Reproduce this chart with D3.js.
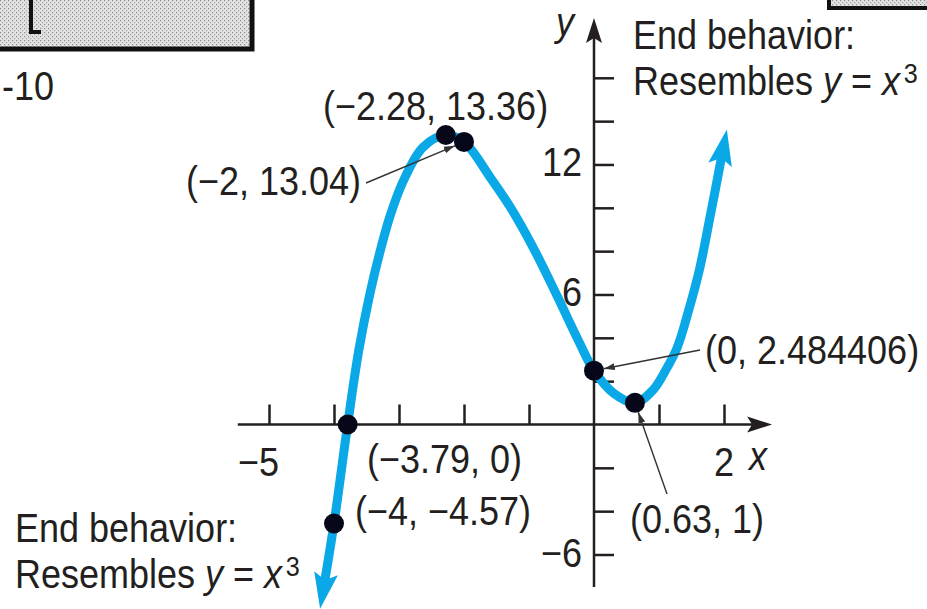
<!DOCTYPE html>
<html>
<head>
<meta charset="utf-8">
<script src="https://cdn.jsdelivr.net/npm/d3@7"></script>
<style>
  html, body { margin: 0; padding: 0; background: #fff; overflow: hidden; }
  svg text { font-family: "Liberation Sans", Arial, Helvetica, sans-serif; fill: #231f20; white-space: pre; }
</style>
</head>
<body>
<svg id="chart" width="927" height="609"></svg>
<script>
// ---- data ---------------------------------------------------------------
// traced points of the cubic, left to right (arrow ends at both extremes)
const curveX = [-4.14, -4, -3.79, -3.62, -3.45, -3.29, -3.14, -2.94, -2.63, -2.28, -2,
                -1.6, -1.29, -0.94, -0.57, -0.22, 0, 0.3, 0.63, 0.91, 1.12, 1.28, 1.45,
                1.63, 1.78, 1.96];
const curveY = [-7.18, -4.57, 0, 3.4, 6.0, 8.0, 9.6, 11.2, 12.8, 13.36, 13.04,
                11.42, 10.04, 8.19, 5.95, 3.75, 2.484406, 1.45, 1, 1.6, 2.6, 3.55, 5.2,
                7.25, 9.5, 12.3];

// marked points and their coordinate labels
const pointX = [-2.28, -2, -3.79, -4, 0, 0.63];
const pointY = [13.36, 13.04, 0, -4.57, 2.484406, 1];
const pointLabels = ["(\u22122.28, 13.36)", "(\u22122, 13.04)", "(\u22123.79, 0)",
                     "(\u22124, \u22124.57)", "(0, 2.484406)", "(0.63, 1)"];

// axes
const xTicks = [-5, -4, -3, -2, -1, 1, 2];
const yTicks = [-6, -4, -2, 2, 4, 6, 8, 10, 12, 14, 16];
const xLabelValues = [-5, 2];
const xLabelTexts = ["\u22125", "2"];
const yLabelValues = [12, 6, -6];
const yLabelTexts = ["12", "6", "\u22126"];

// ---- setup --------------------------------------------------------------
const svg = d3.select("#chart");
const ink = "#231f20";
const blue = "#0aa8e6";
const FS = 40, SX = 0.9;   // condensed look: 40px type squeezed horizontally

const x = d3.scaleLinear().domain([-5, 2]).range([269, 724]);
const y = d3.scaleLinear().domain([-6, 16]).range([554.5, 77.8]);

const defs = svg.append("defs");

// halftone fill used by the calculator-window frames
const pat = defs.append("pattern").attr("id", "stipple")
  .attr("width", 4).attr("height", 4).attr("patternUnits", "userSpaceOnUse");
pat.append("rect").attr("width", 4).attr("height", 4).attr("fill", "#e2e2e2");
pat.append("rect").attr("x", 0).attr("y", 0).attr("width", 1.2).attr("height", 1.2).attr("fill", "#8f8f8f");
pat.append("rect").attr("x", 2).attr("y", 2).attr("width", 1.2).attr("height", 1.2).attr("fill", "#a5a5a5");

function marker(id, d, refX, w, h, fill) {
  defs.append("marker").attr("id", id)
    .attr("viewBox", `0 ${-h / 2} ${w} ${h}`)
    .attr("refX", refX).attr("refY", 0)
    .attr("markerWidth", w).attr("markerHeight", h)
    .attr("markerUnits", "userSpaceOnUse")
    .attr("orient", "auto-start-reverse")
    .append("path").attr("d", d).attr("fill", fill);
}
marker("axisArrow", "M0,-8L25,0L0,8L5,0Z", 5, 26, 18, ink);
marker("curveArrow", "M0,-12L36,0L0,12L7,0Z", 7, 37, 26, blue);
marker("leadArrow", "M0,-3.5L11,0L0,3.5Z", 11, 12, 8, "#333");

// text helper: places a squeezed text element and returns it
function label(px, py, anchor) {
  return svg.append("text")
    .attr("transform", `translate(${px},${py}) scale(${SX},1)`)
    .attr("font-size", FS)
    .attr("text-anchor", anchor || "start");
}

// ---- calculator window fragments --------------------------------------
svg.append("rect").attr("x", -10).attr("y", -10).attr("width", 262).attr("height", 59)
  .attr("fill", "url(#stipple)").attr("stroke", "#111").attr("stroke-width", 5);
svg.append("path").attr("d", "M31,0V32H41").attr("fill", "none")
  .attr("stroke", "#111").attr("stroke-width", 4);
svg.append("rect").attr("x", 829).attr("y", -10).attr("width", 120).attr("height", 18)
  .attr("fill", "url(#stipple)").attr("stroke", "#111").attr("stroke-width", 4);
label(54, 100, "end").text("-10");

// ---- axes -----------------------------------------------------------------
const gx = svg.append("g").attr("transform", `translate(0,${y(0)})`)
  .call(d3.axisTop(x).tickValues(xTicks).tickSize(20).tickFormat(""));
gx.select(".domain").remove();
gx.selectAll(".tick line").attr("stroke", ink).attr("stroke-width", 2.5);

const gy = svg.append("g").attr("transform", `translate(${x(0)},0)`)
  .call(d3.axisRight(y).tickValues(yTicks).tickSize(20).tickFormat(""));
gy.select(".domain").remove();
gy.selectAll(".tick line").attr("stroke", ink).attr("stroke-width", 2.5);

// axis lines with arrowheads (line stops where the arrow notch sits)
svg.append("line")
  .attr("x1", x(-5.48)).attr("x2", x(2.74) - 20)
  .attr("y1", y(0)).attr("y2", y(0))
  .attr("stroke", ink).attr("stroke-width", 2.5).attr("marker-end", "url(#axisArrow)");
svg.append("line")
  .attr("x1", x(0)).attr("x2", x(0))
  .attr("y1", y(-7.5)).attr("y2", y(18.76) + 20)
  .attr("stroke", ink).attr("stroke-width", 2.5).attr("marker-end", "url(#axisArrow)");

// tick labels
xLabelValues.forEach((v, i) => {
  label(x(v) + 10, 476, "end").text(xLabelTexts[i]);
});
yLabelValues.forEach((v, i) => {
  label(x(0) - 12, y(v) + 12, "end").text(yLabelTexts[i]);
});
label(556, 36).attr("font-style", "italic").text("y");
label(749, 470).attr("font-style", "italic").text("x");

// ---- curve ----------------------------------------------------------------
const curvePts = curveX.map((v, i) => [v, curveY[i]]);
svg.append("path")
  .datum(curvePts)
  .attr("d", d3.line().x(d => x(d[0])).y(d => y(d[1])).curve(d3.curveCatmullRom.alpha(0.5)))
  .attr("fill", "none").attr("stroke", blue).attr("stroke-width", 9)
  .attr("stroke-linejoin", "round")
  .attr("marker-start", "url(#curveArrow)").attr("marker-end", "url(#curveArrow)");

// ---- leader lines (label -> point) -------------------------------------
const leaders = [
  { i: 1, from: [366, 183] },
  { i: 4, from: [700, 350] },
  { i: 5, from: [667, 494] }
];
leaders.forEach(l => {
  const px = x(pointX[l.i]), py = y(pointY[l.i]);
  const dx = l.from[0] - px, dy = l.from[1] - py;
  const len = Math.hypot(dx, dy);
  svg.append("line")
    .attr("x1", l.from[0]).attr("y1", l.from[1])
    .attr("x2", px + dx / len * 10).attr("y2", py + dy / len * 10)
    .attr("stroke", "#333").attr("stroke-width", 1.4)
    .attr("marker-end", "url(#leadArrow)");
});

// ---- points ----------------------------------------------------------------
svg.append("g").selectAll("circle")
  .data(pointX.map((v, i) => [v, pointY[i]]))
  .join("circle")
  .attr("cx", d => x(d[0])).attr("cy", d => y(d[1]))
  .attr("r", 10).attr("fill", "#07071a");

// coordinate labels
const labelAt = [[323, 120], [186, 195], [367, 473], [355, 525], [705, 364], [630, 533]];
pointLabels.forEach((t, i) => {
  label(labelAt[i][0], labelAt[i][1]).text(t);
});

// ---- end behaviour notes ------------------------------------------------
function endNote(px, py) {
  label(px, py).text("End behavior:");
  const t = label(px, py + 46);
  t.append("tspan").text("Resembles ");
  t.append("tspan").attr("font-style", "italic").text("y");
  t.append("tspan").text(" = ");
  t.append("tspan").attr("font-style", "italic").text("x");
  t.append("tspan").attr("font-size", 28).attr("dx", 4).attr("dy", -12).text("3");
}
endNote(633, 49);
endNote(15, 542);
</script>
</body>
</html>
